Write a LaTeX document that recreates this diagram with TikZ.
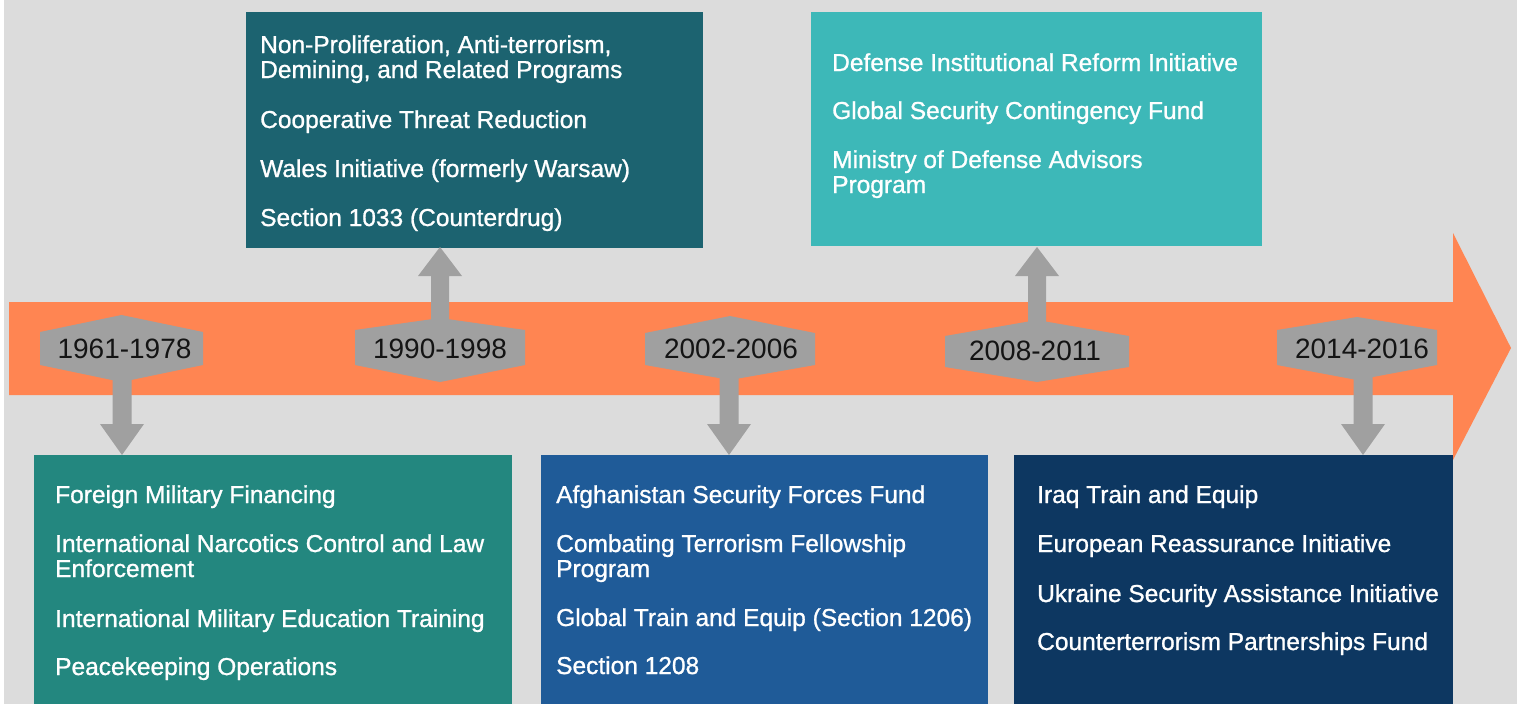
\documentclass[tikz,border=0pt]{standalone}
\usepackage{fontspec}
\setmainfont{Liberation Sans}
\newfontfamily\itemfont[FakeBold=1]{Liberation Sans}
\usetikzlibrary{calc}
\definecolor{bgc}{HTML}{DCDCDC}
\definecolor{orng}{HTML}{FF8552}
\definecolor{grc}{HTML}{A0A0A0}
\definecolor{cA}{HTML}{23877F}
\definecolor{cB}{HTML}{1C6370}
\definecolor{cC}{HTML}{1F5B98}
\definecolor{cD}{HTML}{3DB8B8}
\definecolor{cE}{HTML}{0D3761}
\begin{document}
\begin{tikzpicture}[x=1pt,y=-1pt,
  panel/.style={draw=none, inner sep=0pt, outer sep=0pt, anchor=north west},
  item/.style={anchor=base west, inner sep=0pt, text=white, font=\itemfont\fontsize{24.5}{25}\selectfont},
  yearlbl/.style={anchor=base, inner sep=0pt, text=black!92, font=\fontsize{28}{30}\selectfont},
  blk/.style={fill=grc}]
\useasboundingbox (0,0) rectangle (1520,704);
\fill[white] (0,0) rectangle (1520,704);
\fill[bgc] (4,0) rectangle (1517,704);
% timeline arrow
\fill[orng] (9,302) -- (1453,302) -- (1453,233) -- (1511,348) -- (1453,460) -- (1453,395) -- (9,395) -- cycle;

% panels
\node[panel, fill=cA, minimum width=478pt, minimum height=249pt] (pA) at (34,455) {};
\node[panel, fill=cB, minimum width=457pt, minimum height=236pt] (pB) at (246,12) {};
\node[panel, fill=cC, minimum width=447pt, minimum height=249pt] (pC) at (541,455) {};
\node[panel, fill=cD, minimum width=451pt, minimum height=234pt] (pD) at (811,12) {};
\node[panel, fill=cE, minimum width=439pt, minimum height=249pt] (pE) at (1014,455) {};

% hexagons
\fill[blk] (40,332) -- (121.5,315) -- (203,332) -- (203,365) -- (121.5,382) -- (40,365) -- cycle;
\fill[blk] (355,330) -- (440,318) -- (525,330) -- (525,365) -- (440,382) -- (355,365) -- cycle;
\fill[blk] (645,333) -- (730,316) -- (815,333) -- (815,365) -- (730,380) -- (645,365) -- cycle;
\fill[blk] (945,336) -- (1037,320) -- (1129,336) -- (1129,367) -- (1037,382) -- (945,367) -- cycle;
\fill[blk] (1277,330) -- (1357,317) -- (1437,330) -- (1437,365) -- (1357,380) -- (1277,365) -- cycle;

% year labels
\node[yearlbl] (y1) at (124.5,358) {1961-1978};
\node[yearlbl] (y2) at (440,358) {1990-1998};
\node[yearlbl] (y3) at (731,358) {2002-2006};
\node[yearlbl] (y4) at (1035,360) {2008-2011};
\node[yearlbl] (y5) at (1362,358) {2014-2016};

% block arrows (down)
\coordinate (t1) at (122,455);
\coordinate (t3) at (729,455);
\coordinate (t5) at (1363,455);
\foreach \t in {t1,t3,t5}{
  \fill[blk] ($(\t)+(-9.5,-85)$) -- ($(\t)+(-9.5,-31)$) -- ($(\t)+(-22,-31)$) -- (\t)
     -- ($(\t)+(22,-31)$) -- ($(\t)+(9.5,-31)$) -- ($(\t)+(9.5,-85)$) -- cycle;
}
% block arrows (up)
\coordinate (t2) at (440,247);
\coordinate (t4) at (1037,247);
\foreach \t in {t2,t4}{
  \fill[blk] ($(\t)+(-9,85)$) -- ($(\t)+(-9,29)$) -- ($(\t)+(-22,29)$) -- (\t)
     -- ($(\t)+(22,29)$) -- ($(\t)+(9,29)$) -- ($(\t)+(9,85)$) -- cycle;
}

% texts: panel A
\node[item] (a1) at (55,503) {Foreign Military Financing};
\node[item] (a2) at (55,552) {International Narcotics Control and Law};
\node[item] (a2b) at (55,577) {Enforcement};
\node[item] (a3) at (55,627) {International Military Education Training};
\node[item] (a4) at (55,675) {Peacekeeping Operations};
% panel B
\node[item] (b1) at (260,53) {Non-Proliferation, Anti-terrorism,};
\node[item] (b1b) at (260,78) {Demining, and Related Programs};
\node[item] (b2) at (260,128) {Cooperative Threat Reduction};
\node[item] (b3) at (260,177) {Wales Initiative (formerly Warsaw)};
\node[item] (b4) at (260,226) {Section 1033 (Counterdrug)};
% panel C
\node[item] (c1) at (556,503) {Afghanistan Security Forces Fund};
\node[item] (c2) at (556,552) {Combating Terrorism Fellowship};
\node[item] (c2b) at (556,577) {Program};
\node[item] (c3) at (556,626) {Global Train and Equip (Section 1206)};
\node[item] (c4) at (556,674) {Section 1208};
% panel D
\node[item] (d1) at (832,71) {Defense Institutional Reform Initiative};
\node[item] (d2) at (832,119) {Global Security Contingency Fund};
\node[item] (d3) at (832,168) {Ministry of Defense Advisors};
\node[item] (d3b) at (832,193) {Program};
% panel E
\node[item] (e1) at (1037,503) {Iraq Train and Equip};
\node[item] (e2) at (1037,552) {European Reassurance Initiative};
\node[item] (e3) at (1037,602) {Ukraine Security Assistance Initiative};
\node[item] (e4) at (1037,650) {Counterterrorism Partnerships Fund};
\end{tikzpicture}
\end{document}
